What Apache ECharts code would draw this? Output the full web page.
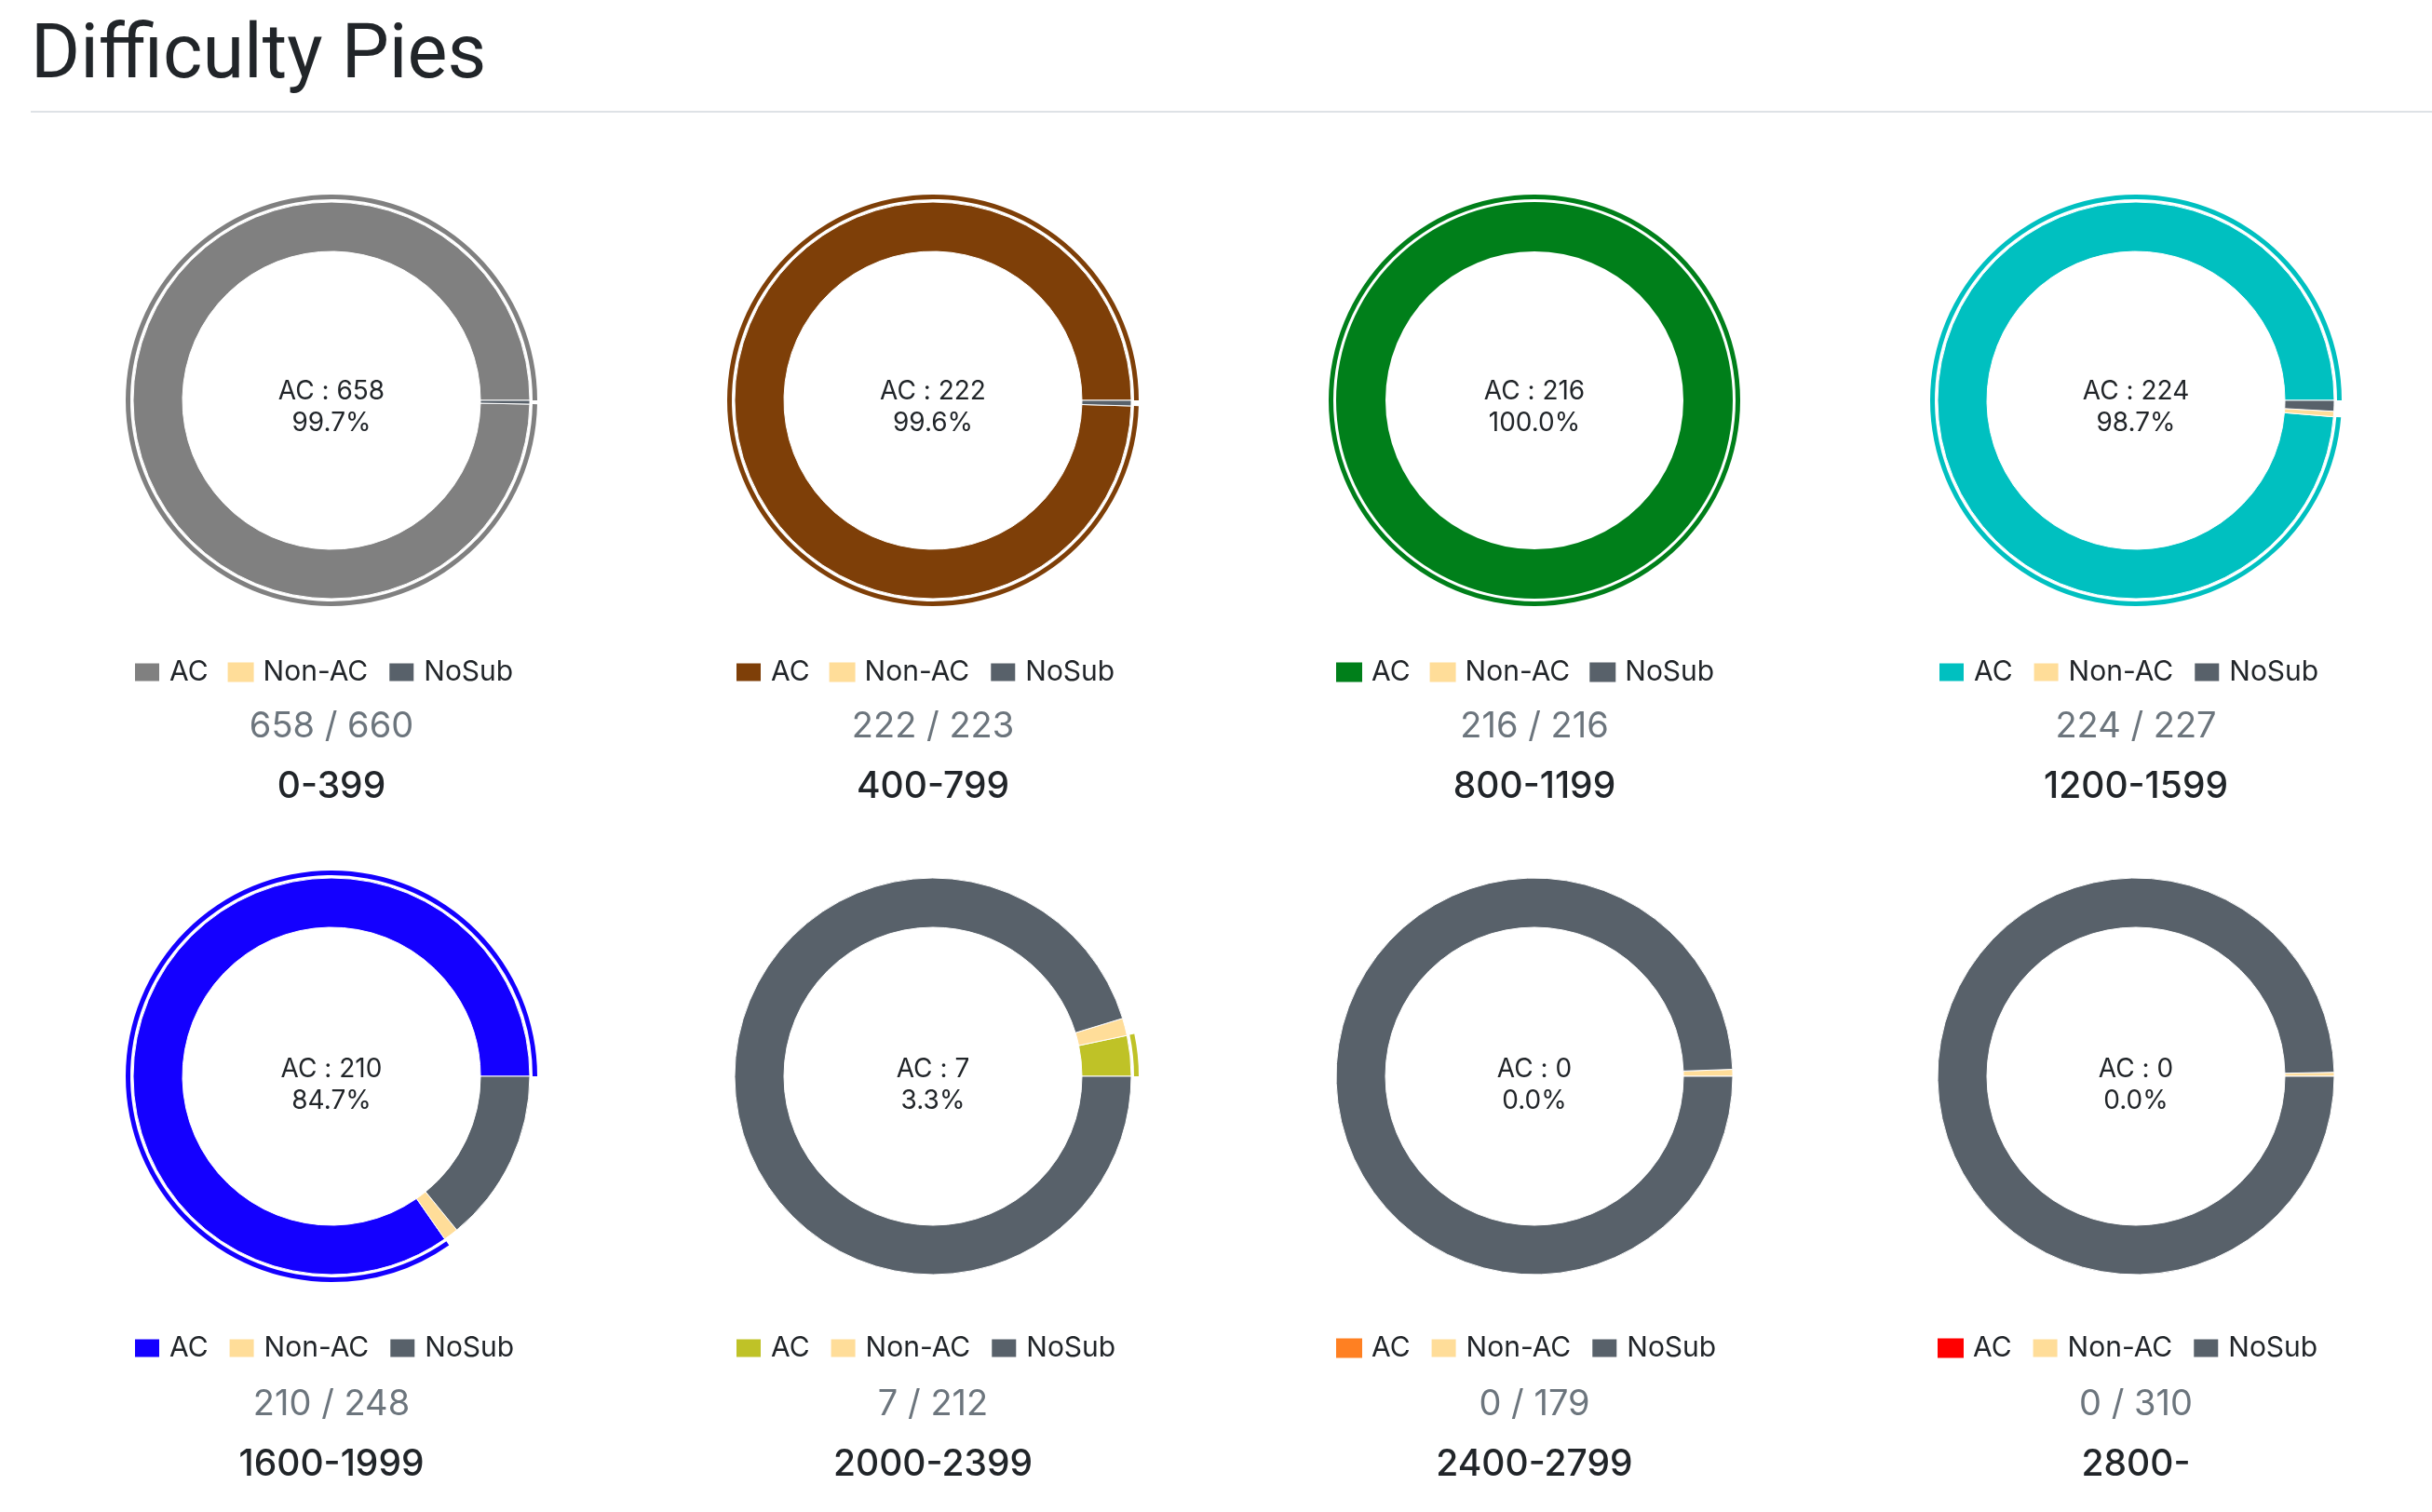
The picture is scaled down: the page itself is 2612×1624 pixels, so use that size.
<!DOCTYPE html>
<html>
<head>
<meta charset="utf-8">
<title>Difficulty Pies</title>
<script src="https://cdn.jsdelivr.net/npm/echarts@6/dist/echarts.min.js"></script>
<style>
  html, body { margin: 0; padding: 0; background: #fff; }
  #chart { width: 2612px; height: 1624px; }
</style>
</head>
<body>
<div id="chart"></div>
<script>
// ---- data ----
const ranges = ['0-399', '400-799', '800-1199', '1200-1599', '1600-1999', '2000-2399', '2400-2799', '2800-'];
const acCounts = [658, 222, 216, 224, 210, 7, 0, 0];
const nonAcCounts = [0, 0, 0, 1, 3, 3, 1, 1];
const noSubCounts = [2, 1, 0, 2, 35, 202, 178, 309];
const statusNames = ['AC', 'Non-AC', 'NoSub'];
const acColors = ['#808080', '#7E3F08', '#007F1A', '#00C0C0', '#1400FF', '#BFC227', '#FF8022', '#FF0000'];
const nonAcColor = '#FFDD99';
const noSubColor = '#58616A';

// ---- layout ----
const colX = [356, 1002, 1648, 2294];
const rowY = [430, 1156];
const FONT = 'Inter, "Noto Sans", sans-serif';

const series = [];
const legends = [];
const graphics = [
  { type: 'text', x: 33, y: 63, style: { text: 'Difficulty Pies', font: '400 81px Roboto, sans-serif', fill: '#212529', align: 'left', verticalAlign: 'middle' } },
  { type: 'line', shape: { x1: 33, y1: 120, x2: 2612, y2: 120 }, style: { stroke: '#dee2e6', lineWidth: 2 } }
];

ranges.forEach((range, i) => {
  const row = Math.floor(i / 4);
  const cx = colX[i % 4];
  const cy = rowY[row];
  const dy = row === 0 ? 3 : 5;
  const values = [acCounts[i], nonAcCounts[i], noSubCounts[i]];
  const colors = [acColors[i], nonAcColor, noSubColor];
  const total = values[0] + values[1] + values[2];
  const names = statusNames.map(s => s + '|' + range);

  series.push({
    type: 'pie',
    center: [cx, cy],
    radius: [160, 213],
    startAngle: 0,
    clockwise: false,
    avoidLabelOverlap: false,
    label: { show: false },
    labelLine: { show: false },
    emphasis: { scale: false },
    data: values.map((v, k) => ({
      name: names[k], value: v,
      itemStyle: { color: colors[k], borderColor: '#fff', borderWidth: (v === 0 || v === total) ? 0 : 1 }
    }))
  });

  // active-sector outer ring around the AC slice
  series.push({
    type: 'pie',
    center: [cx, cy],
    radius: [216, 221],
    startAngle: 0,
    clockwise: false,
    silent: true,
    label: { show: false },
    labelLine: { show: false },
    itemStyle: { borderWidth: 0 },
    data: values.map((v, k) => ({
      name: names[k] + '|ring', value: v,
      itemStyle: { color: k === 0 ? colors[0] : 'rgba(0,0,0,0)' }
    }))
  });

  legends.push({
    data: names,
    left: cx - 213,
    top: cy + 277,
    padding: 0,
    itemGap: 21,
    itemWidth: 28,
    itemHeight: 21,
    icon: 'rect',
    selectedMode: false,
    formatter: n => n.split('|')[0],
    textStyle: { fontFamily: FONT, fontSize: 30, color: '#212529', padding: [0, 0, 0, 5], lineHeight: 30 }
  });

  const pct = total > 0 ? (values[0] / total * 100).toFixed(1) : '0.0';
  graphics.push({
    type: 'text', x: cx, y: cy + 5 + dy,
    style: { text: 'AC : ' + values[0] + '\n' + pct + '%', font: '400 28px ' + FONT, lineHeight: 34, fill: '#212529', align: 'center', verticalAlign: 'middle' }
  });
  graphics.push({
    type: 'text', x: cx, y: cy + 348 + dy,
    style: { text: values[0] + ' / ' + total, font: '400 38px ' + FONT, fill: '#6c757d', align: 'center', verticalAlign: 'middle' }
  });
  graphics.push({
    type: 'text', x: cx, y: cy + 412 + dy,
    style: { text: range, font: '500 39px ' + FONT, fill: '#212529', align: 'center', verticalAlign: 'middle' }
  });
});

const chart = echarts.init(document.getElementById('chart'), null, { renderer: 'canvas' });
chart.setOption({
  backgroundColor: '#fff',
  animation: false,
  legend: legends,
  series: series,
  graphic: graphics
});
</script>
</body>
</html>
